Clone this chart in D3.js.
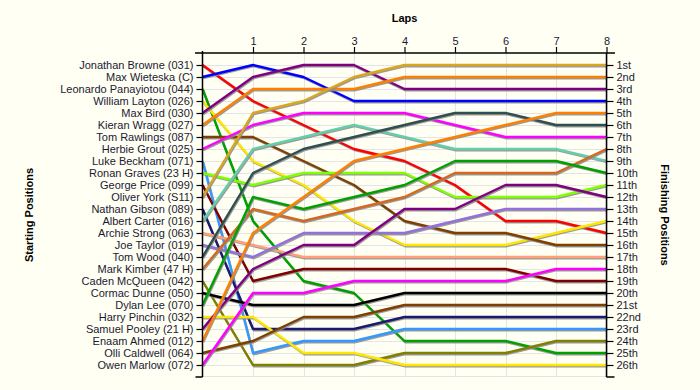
<!DOCTYPE html>
<html><head><meta charset="utf-8">
<script src="https://cdn.jsdelivr.net/npm/d3@7/dist/d3.min.js"></script>
<style>
html,body{margin:0;padding:0;background:#fffff4;}
svg{display:block;font-family:"Liberation Sans",Arial,sans-serif;}
</style></head><body>
<svg id="c" width="700" height="390"></svg>
<script>
const drivers = ["Jonathan Browne (031)","Max Wieteska (C)","Leonardo Panayiotou (044)","William Layton (026)","Max Bird (030)","Kieran Wragg (027)","Tom Rawlings (087)","Herbie Grout (025)","Luke Beckham (071)","Ronan Graves (23 H)","George Price (099)","Oliver York (S11)","Nathan Gibson (089)","Albert Carter (016)","Archie Strong (063)","Joe Taylor (019)","Tom Wood (040)","Mark Kimber (47 H)","Caden McQueen (042)","Cormac Dunne (050)","Dylan Lee (070)","Harry Pinchin (032)","Samuel Pooley (21 H)","Enaam Ahmed (012)","Olli Caldwell (064)","Owen Marlow (072)"];
const colors = ["#ff0000","#0000ff","#00a000","#ffe600","#800080","#ff8000","#7f3f00","#ff00ff","#3399ff","#80ff00","#800000","#daa520","#1a1a70","#66cdaa","#ffa07a","#9370db","#2f4f4f","#d2691e","#808000","#000000","#00a000","#ffe600","#800080","#ff8000","#7f3f00","#ff00ff"];
const laps = [0,1,2,3,4,5,6,7,8];
const lapLabels = ["1","2","3","4","5","6","7","8"];
const finishLabels = ["1st","2nd","3rd","4th","5th","6th","7th","8th","9th","10th","11th","12th","13th","14th","15th","16th","17th","18th","19th","20th","21st","22nd","23rd","24th","25th","26th"];
const p01 = [1,4,6,8,9,11,14,14,15];
const p02 = [2,1,2,4,4,4,4,4,4];
const p03 = [3,14,19,20,24,24,24,25,25];
const p04 = [4,9,11,14,16,16,16,15,14];
const p05 = [5,2,1,1,3,3,3,3,3];
const p06 = [6,3,3,3,2,2,2,2,2];
const p07 = [7,7,9,11,14,15,15,16,16];
const p08 = [8,6,5,5,5,6,7,7,7];
const p09 = [9,25,24,24,23,23,23,23,23];
const p10 = [10,11,10,10,10,12,12,12,11];
const p11 = [11,19,18,18,18,18,18,19,19];
const p12 = [12,5,4,2,1,1,1,1,1];
const p13 = [13,23,23,23,22,22,22,22,22];
const p14 = [14,8,7,6,7,8,8,8,9];
const p15 = [15,16,17,17,17,17,17,17,17];
const p16 = [16,17,15,15,15,14,13,13,13];
const p17 = [17,10,8,7,6,5,5,6,6];
const p18 = [18,13,14,13,12,10,10,10,8];
const p19 = [19,26,26,26,25,25,25,24,24];
const p20 = [20,21,21,21,20,20,20,20,20];
const p21 = [21,12,13,12,11,9,9,9,10];
const p22 = [22,22,25,25,26,26,26,26,26];
const p23 = [23,18,16,16,13,13,11,11,12];
const p24 = [24,15,12,9,8,7,6,5,5];
const p25 = [25,24,22,22,21,21,21,21,21];
const p26 = [26,20,20,19,19,19,19,18,18];
const positions = [p01,p02,p03,p04,p05,p06,p07,p08,p09,p10,p11,p12,p13,p14,p15,p16,p17,p18,p19,p20,p21,p22,p23,p24,p25,p26];

const svg = d3.select("#c");
const x = d3.scaleLinear().domain([0,8]).range([202.5,606.5]);
const y = d3.scaleLinear().domain([0,27]).range([53,377]);
const rows = d3.range(1,27);
const textCol = "#1a1a33";

// grid
const g = svg.append("g");
g.selectAll("line.h").data(rows).join("line")
  .attr("x1",x(0)).attr("x2",x(8)).attr("y1",d=>y(d)+0.5).attr("y2",d=>y(d)+0.5)
  .attr("stroke","#e4e4e4").attr("stroke-width",1);
g.selectAll("line.v").data(laps.slice(1)).join("line")
  .attr("x1",d=>Math.round(x(d))+0.5).attr("x2",d=>Math.round(x(d))+0.5).attr("y1",y(0)).attr("y2",y(27))
  .attr("stroke","#e4e4e4").attr("stroke-width",1);
g.append("line").attr("x1",x(0)).attr("x2",x(8)).attr("y1",y(27)-0.5).attr("y2",y(27)-0.5).attr("stroke","#e4e4e4");

// lines
const line = d3.line().x((d,i)=>x(laps[i])).y(d=>y(d));
const series = svg.append("g").selectAll("g").data(positions).join("g");
series.append("path").attr("d",d=>line(d)).attr("fill","none")
  .attr("stroke","#8a8a8a").attr("stroke-width",2.2).attr("opacity",0.85)
  .attr("transform","translate(0.8,1.3)");
series.append("path").attr("d",d=>line(d)).attr("fill","none")
  .attr("stroke",(d,i)=>colors[i]).attr("stroke-width",2.4).attr("stroke-linejoin","round");

// axes
const axTop = svg.append("g").attr("transform",`translate(0,${y(0)})`)
  .call(d3.axisTop(x).tickValues(laps.slice(1)).tickFormat((d,i)=>lapLabels[i]).tickSize(6).tickSizeOuter(0));
axTop.select(".domain").remove();
axTop.append("line").attr("x1",195).attr("x2",615).attr("y1",0).attr("y2",0).attr("stroke","#000").attr("stroke-width",1.5);

const axLeft = svg.append("g").attr("transform",`translate(${x(0)},0)`)
  .call(d3.axisLeft(y).tickValues(rows).tickFormat((d,i)=>drivers[i]).tickSize(6).tickSizeOuter(0));
axLeft.select(".domain").remove();
axLeft.append("line").attr("x1",0).attr("x2",0).attr("y1",y(0)-2).attr("y2",y(27)).attr("stroke","#000").attr("stroke-width",1.5);
axLeft.append("line").attr("x1",-7).attr("x2",0).attr("y1",y(27)).attr("y2",y(27)).attr("stroke","#000").attr("stroke-width",1.5);

const axRight = svg.append("g").attr("transform",`translate(${x(8)},0)`)
  .call(d3.axisRight(y).tickValues(rows).tickFormat((d,i)=>finishLabels[i]).tickSize(7).tickSizeOuter(0));
axRight.select(".domain").remove();
axRight.append("line").attr("x1",0).attr("x2",0).attr("y1",y(0)).attr("y2",y(27)).attr("stroke","#000").attr("stroke-width",1.5);
axRight.append("line").attr("x1",0).attr("x2",8).attr("y1",y(27)).attr("y2",y(27)).attr("stroke","#000").attr("stroke-width",1.5);

svg.selectAll(".tick line").attr("stroke","#000").attr("stroke-width",1.2);
svg.selectAll(".tick text").attr("font-size",11).attr("fill",textCol).attr("font-family","'Liberation Sans',Arial,sans-serif");
axTop.selectAll(".tick text").attr("dy","0").attr("y",-8);
axLeft.selectAll(".tick text").attr("x",-9);
axRight.selectAll(".tick text").attr("x",10);

// titles
svg.append("text").attr("x",x(4)).attr("y",22).attr("text-anchor","middle")
  .attr("font-size",11).attr("font-weight","bold").attr("fill","#000").text("Laps");
svg.append("text").attr("transform",`translate(33,215) rotate(-90)`).attr("text-anchor","middle")
  .attr("font-size",11).attr("font-weight","bold").attr("fill","#000").text("Starting Positions");
svg.append("text").attr("transform",`translate(661,215) rotate(90)`).attr("text-anchor","middle")
  .attr("font-size",11).attr("font-weight","bold").attr("fill","#000").text("Finishing Positions");
</script>
</body></html>
